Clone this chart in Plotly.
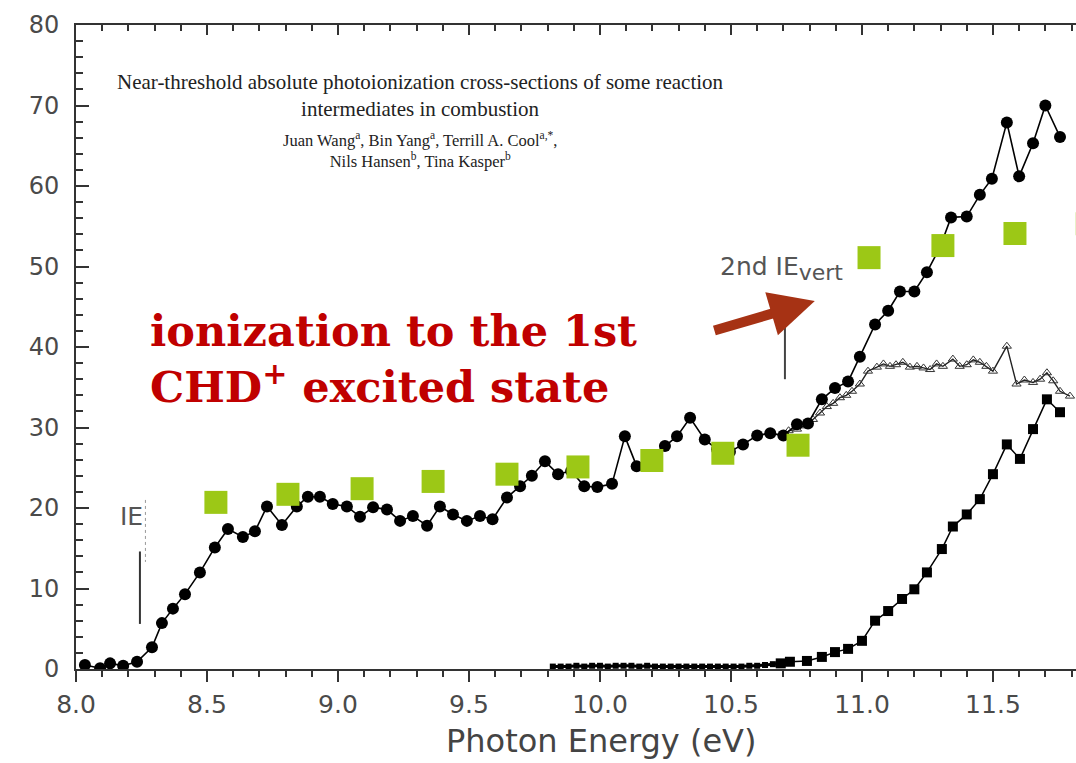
import plotly.graph_objects as go

# ---- data ----
circ_x = [8.034, 8.092, 8.13, 8.18, 8.233, 8.29, 8.328, 8.37, 8.416, 8.473, 8.53, 8.58,
          8.637, 8.683, 8.729, 8.786, 8.843, 8.885, 8.931, 8.98, 9.034, 9.084, 9.134,
          9.187, 9.237, 9.286, 9.34, 9.389, 9.439, 9.492, 9.542, 9.59, 9.645, 9.695,
          9.74, 9.79, 9.84, 9.89, 9.94, 9.99, 10.046, 10.095, 10.14, 10.19, 10.248,
          10.294, 10.344, 10.40, 10.447, 10.496, 10.546, 10.60, 10.65, 10.70, 10.752,
          10.794, 10.847, 10.897, 10.947, 10.992, 11.05, 11.10, 11.145, 11.20, 11.248,
          11.298, 11.34, 11.40, 11.45, 11.496, 11.553, 11.60, 11.653, 11.70, 11.756]
circ_y = [0.5, 0.1, 0.7, 0.4, 0.9, 2.7, 5.7, 7.5, 9.3, 12.0, 15.1, 17.4,
          16.4, 17.1, 20.2, 17.9, 20.2, 21.4, 21.4, 20.5, 20.2, 18.9, 20.1,
          19.8, 18.4, 19.0, 17.8, 20.2, 19.2, 18.4, 19.0, 18.6, 21.3, 22.7,
          24.0, 25.8, 24.2, 24.6, 22.7, 22.6, 23.0, 28.9, 25.2, 26.4, 27.7,
          28.9, 31.2, 28.5, 27.3, 27.0, 27.9, 29.0, 29.3, 29.0, 30.4,
          30.5, 33.5, 34.9, 35.7, 38.8, 42.8, 44.5, 46.9, 46.9, 49.3,
          52.4, 56.1, 56.2, 58.9, 60.9, 67.9, 61.2, 65.3, 70.0, 66.1]

tri_x = [10.72, 10.752, 10.78, 10.813, 10.84, 10.866, 10.89, 10.916, 10.94, 10.962, 10.992,
         11.023, 11.057, 11.082, 11.107, 11.13, 11.156, 11.183, 11.21, 11.235, 11.26,
         11.285, 11.309, 11.347, 11.373, 11.40, 11.425, 11.45, 11.475, 11.50, 11.553,
         11.59, 11.62, 11.653, 11.68, 11.706, 11.73, 11.756, 11.794]
tri_y = [29.6, 29.8, 30.2, 31.0, 31.8, 32.6, 33.0, 33.7, 34.0, 34.5, 35.4,
         37.0, 37.5, 37.9, 37.6, 37.8, 38.1, 37.5, 37.6, 37.4, 37.2,
         37.9, 37.6, 38.5, 37.6, 37.8, 38.4, 38.1, 37.6, 37.0, 40.1,
         35.4, 35.9, 35.6, 36.0, 36.8, 35.8, 34.5, 33.9]

# dense, nearly flat low-energy part of the lower curve
flat_x = [9.82, 9.85, 9.88, 9.91, 9.94, 9.97, 10.00, 10.03, 10.06, 10.09, 10.12, 10.15,
          10.18, 10.21, 10.24, 10.27, 10.30, 10.33, 10.36, 10.39, 10.42, 10.45, 10.48,
          10.51, 10.54, 10.57, 10.60, 10.63, 10.66, 10.69]
flat_y = [0.3, 0.3, 0.3, 0.4, 0.3, 0.4, 0.4, 0.3, 0.4, 0.4, 0.4, 0.3,
          0.4, 0.3, 0.3, 0.3, 0.3, 0.3, 0.3, 0.3, 0.3, 0.3, 0.3,
          0.3, 0.3, 0.4, 0.4, 0.5, 0.6, 0.7]

sq_x = [10.69, 10.725, 10.79, 10.847, 10.897, 10.947,
        11.0, 11.05, 11.10, 11.153, 11.20, 11.248, 11.305, 11.347, 11.40, 11.45, 11.50,
        11.553, 11.603, 11.653, 11.706, 11.756]
sq_y = [0.7, 0.9, 1.0, 1.5, 2.1, 2.5,
        3.5, 6.0, 7.2, 8.7, 9.9, 12.0, 14.9, 17.7, 19.2, 21.1, 24.2,
        27.9, 26.1, 29.8, 33.5, 31.9]

green_x = [8.534, 8.809, 9.092, 9.363, 9.645, 9.916, 10.198, 10.469, 10.756,
           11.027, 11.309, 11.584, 11.86]
green_y = [20.7, 21.7, 22.4, 23.3, 24.2, 25.1, 25.9, 26.8, 27.8,
           51.1, 52.6, 54.1, 55.3]

x_ticks = [8.0, 8.5, 9.0, 9.5, 10.0, 10.5, 11.0, 11.5]
y_ticks = [0, 10, 20, 30, 40, 50, 60, 70, 80]

XR = [8.0, 11.817]
YR = [0, 80]

fig = go.Figure()
fig.add_trace(go.Scatter(x=flat_x, y=flat_y, mode="lines+markers",
                         line=dict(color="black", width=3),
                         marker=dict(symbol="square", size=6, color="black")))
fig.add_trace(go.Scatter(x=sq_x, y=sq_y, mode="lines+markers",
                         line=dict(color="black", width=1.5),
                         marker=dict(symbol="square", size=10, color="black")))
fig.add_trace(go.Scatter(x=tri_x, y=tri_y, mode="lines+markers",
                         line=dict(color="#222", width=1.4),
                         marker=dict(symbol="triangle-up-open", size=8, color="#333",
                                     line=dict(width=1))))
fig.add_trace(go.Scatter(x=circ_x, y=circ_y, mode="lines+markers",
                         line=dict(color="black", width=1.6),
                         marker=dict(symbol="circle", size=12, color="black")))
fig.add_trace(go.Scatter(x=green_x, y=green_y, mode="markers",
                         marker=dict(symbol="square", size=23, color="#9cc816")))

# markers for ionization energies
fig.add_trace(go.Scatter(x=[8.244, 8.244], y=[14.6, 5.6], mode="lines",
                         line=dict(color="#333", width=2)))
fig.add_trace(go.Scatter(x=[8.265, 8.265], y=[21.0, 13.3], mode="lines",
                         line=dict(color="#999", width=1, dash="dot")))
fig.add_trace(go.Scatter(x=[10.706, 10.706], y=[45.0, 36.0], mode="lines",
                         line=dict(color="#444", width=2)))

sans = "DejaVu Sans, Liberation Sans, Arial, sans-serif"
xtick_font = dict(family=sans, size=25, color="#4a4a4a")
ytick_font = dict(family=sans, size=24, color="#4a4a4a")

fig.update_layout(
    width=1076, height=763,
    margin=dict(l=76, r=0, t=25, b=94),
    paper_bgcolor="white", plot_bgcolor="white",
    showlegend=False,
    xaxis=dict(range=XR, tickvals=x_ticks, ticktext=[f"{v:.1f}" for v in x_ticks],
               ticks="outside", ticklen=11, tickwidth=2, tickcolor="#333",
               showline=True, linecolor="#333", linewidth=2, showgrid=False,
               zeroline=False, tickfont=xtick_font, ticklabelstandoff=1,
               minor=dict(dtick=0.1, ticks="outside", ticklen=6, tickwidth=2,
                          tickcolor="#333", showgrid=False)),
    xaxis2=dict(range=XR, overlaying="x", side="top", tickvals=x_ticks,
                ticks="inside", ticklen=10, tickwidth=2, tickcolor="#333",
                showticklabels=False, showline=True, linecolor="#333", linewidth=2,
                showgrid=False, zeroline=False,
                minor=dict(dtick=0.1, ticks="inside", ticklen=6, tickwidth=2,
                           tickcolor="#333", showgrid=False)),
    yaxis=dict(range=YR, tickvals=y_ticks, ticks="inside", ticklen=13, tickwidth=2,
               tickcolor="#333", showline=True, linecolor="#333", linewidth=2,
               showgrid=False, zeroline=False, tickfont=ytick_font,
               ticklabelstandoff=10,
               minor=dict(dtick=2, ticks="inside", ticklen=7, tickwidth=2,
                          tickcolor="#333", showgrid=False)),
)
# invisible trace so the top axis is drawn
fig.add_trace(go.Scatter(x=[XR[0]], y=[0], xaxis="x2", mode="markers",
                         marker=dict(opacity=0), hoverinfo="skip"))

ann = []
ann.append(dict(xref="paper", yref="paper", x=0.525, y=(669 - 761) / 644,
                xanchor="center", yanchor="bottom", showarrow=False,
                text="Photon Energy (eV)", borderpad=0,
                font=dict(family=sans, size=32, color="#444")))
ann.append(dict(xref="paper", yref="paper", x=(420 - 76) / 1000, y=(669 - 95) / 644,
                xanchor="center", yanchor="middle", showarrow=False,
                text="Near-threshold absolute photoionization cross-sections of some reaction<br>intermediates in combustion",
                font=dict(family="Liberation Serif, Times New Roman, serif", size=21,
                          color="#222")))
ann.append(dict(xref="paper", yref="paper", x=(420 - 76) / 1000, y=(669 - 150) / 644,
                xanchor="center", yanchor="middle", showarrow=False,
                text="Juan Wang<sup>a</sup>, Bin Yang<sup>a</sup>, Terrill A. Cool<sup>a,*</sup>,<br>Nils Hansen<sup>b</sup>, Tina Kasper<sup>b</sup>",
                font=dict(family="Liberation Serif, Times New Roman, serif", size=16.5,
                          color="#222")))
ann.append(dict(xref="paper", yref="paper", x=(148 - 76) / 1000, y=(669 - 359) / 644,
                xanchor="left", yanchor="middle", showarrow=False, align="left",
                text="<b>ionization to the 1st<br>CHD<sup>+</sup> excited state</b>",
                font=dict(family="DejaVu Serif, serif", size=43, color="#c00000")))
ann.append(dict(x=10.82, y=45.7, ax=10.431, ay=42.0, xref="x", yref="y",
                axref="x", ayref="y", showarrow=True, arrowhead=2, arrowsize=0.9,
                arrowwidth=10, arrowcolor="#a63214", text=""))
ann.append(dict(xref="x", yref="y", x=10.45, y=49.8, xanchor="left", yanchor="middle",
                showarrow=False,
                text="2nd IE<sub><span style='font-size:22px'>vert</span></sub>",
                font=dict(family=sans, size=25, color="#555")))
ann.append(dict(xref="x", yref="y", x=8.21, y=19.0, xanchor="center", yanchor="middle",
                showarrow=False, text="IE",
                font=dict(family=sans, size=25, color="#555")))
fig.update_layout(annotations=ann)

fig.write_html("out.html")
